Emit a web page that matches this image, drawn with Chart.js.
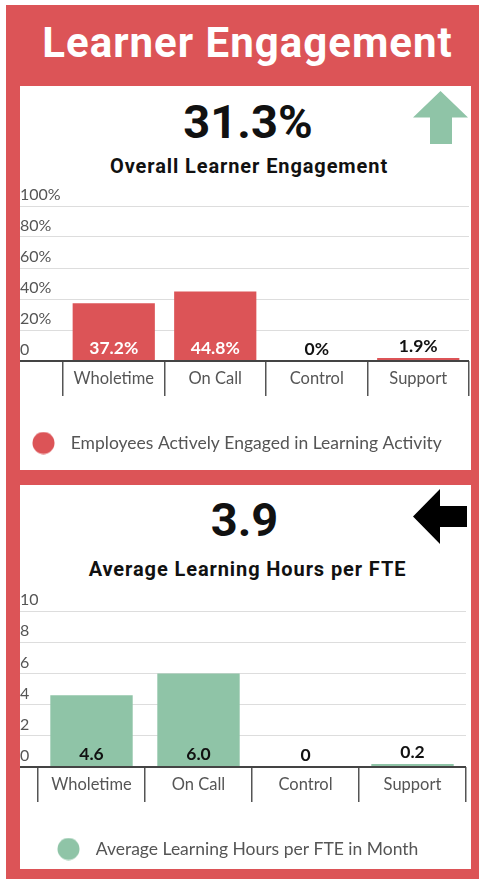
<!DOCTYPE html>
<html>
<head>
<meta charset="utf-8">
<script src="https://cdn.jsdelivr.net/npm/chart.js@4"></script>
<style>
  html, body { margin:0; padding:0; background:#fff; width:479px; height:879px; overflow:hidden; }
  #frame { position:absolute; left:6px; top:5px; width:480px; height:880px; background:#dc5457; }
  .card { position:absolute; background:#fff; left:20px; width:451px; }
  .title { position:absolute; left:0; width:495px; text-align:center; color:#fff;
           font-family:Roboto, sans-serif; font-weight:700; font-size:42px; line-height:42px; top:22px; letter-spacing:1px; }
  .big { position:absolute; text-align:center; color:#111; font-family:Roboto, sans-serif;
         font-weight:700; font-size:47px; line-height:47px; }
  .sub { position:absolute; text-align:center; color:#111; font-family:Roboto, sans-serif;
         font-weight:700; font-size:20px; line-height:20px; letter-spacing:0.9px; }
  canvas { position:absolute; }
  svg { position:absolute; left:0; top:0; }
</style>
</head>
<body>
<div id="frame"></div>
<div class="title">Learner Engagement</div>
<div class="card" style="top:86px;height:384px;"></div>
<div class="card" style="top:485px;height:384px;"></div>

<div class="big" style="left:0;width:496px;top:98px;">31.3%</div>
<div class="sub" style="left:0;width:498px;top:156px;">Overall Learner Engagement</div>
<div class="big" style="left:0;width:489px;top:496px;">3.9</div>
<div class="sub" style="left:0;width:495px;top:559px;">Average Learning Hours per FTE</div>

<svg width="479" height="879">
  <polygon points="413,117.5 440.5,91 468,117.5 452,117.5 452,144 430,144 430,117.5" fill="#8fc4a7"/>
  <polygon points="413,516.5 440,489 440,506 467,506 467,527 440,527 440,544" fill="#000"/>
</svg>

<canvas id="c1" width="451" height="284" style="left:20px;top:186px;"></canvas>
<canvas id="c2" width="451" height="278" style="left:20px;top:591px;"></canvas>

<script>
// ---- data ----
const categories = ['Wholetime', 'On Call', 'Control', 'Support'];
const engagementPct = [37.2, 44.8, 0, 1.9];
const learningHours = [4.6, 6.0, 0, 0.2];
const engagementLabel = 'Employees Actively Engaged in Learning Activity';
const hoursLabel = 'Average Learning Hours per FTE in Month';
const engagementTicks = [0, 20, 40, 60, 80, 100];
const hoursTicks = [0, 2, 4, 6, 8, 10];

const RED = '#dc5457';
const GREEN = '#8fc4a7';

Chart.defaults.font.family = 'Lato, sans-serif';

function dotImage(color) {
  const c = document.createElement('canvas');
  c.width = 30; c.height = 23;
  const g = c.getContext('2d');
  g.fillStyle = color;
  g.beginPath(); g.arc(11.5, 11.5, 11, 0, Math.PI * 2); g.fill();
  return c;
}

const valueLabels = {
  id: 'valueLabels',
  afterDatasetsDraw(chart, args, opts) {
    const ctx = chart.ctx;
    const meta = chart.getDatasetMeta(0);
    const data = chart.data.datasets[0].data;
    ctx.save();
    ctx.font = 'bold 17.5px Lato, sans-serif';
    ctx.textAlign = 'center';
    ctx.textBaseline = 'middle';
    meta.data.forEach((bar, i) => {
      const h = bar.base - bar.y;
      const inside = h > 24;
      ctx.fillStyle = inside ? opts.insideColor : opts.outsideColor;
      ctx.fillText(opts.format(data[i]), bar.x, (inside ? bar.base : bar.y) - 12);
    });
    ctx.restore();
  }
};

function makeChart(id, values, label, color, ticksList, yMax, yWidth, barPct, pad, xHeight, legendPad, fmtTick, fmtVal, insideColor) {
  return new Chart(document.getElementById(id), {
    type: 'bar',
    data: {
      labels: categories,
      datasets: [{
        label: label,
        data: values,
        backgroundColor: color,
        borderWidth: 0,
        categoryPercentage: 1,
        barPercentage: barPct
      }]
    },
    plugins: [valueLabels],
    options: {
      responsive: false,
      animation: false,
      layout: { padding: pad },
      plugins: {
        tooltip: { enabled: false },
        valueLabels: { insideColor: insideColor, outsideColor: '#111', format: fmtVal },
        legend: {
          position: 'bottom',
          align: 'start',
          labels: {
            usePointStyle: true,
            pointStyle: dotImage(color),
            pointStyleWidth: 30,
            color: '#555',
            font: { size: 17.5 },
            padding: legendPad
          }
        }
      },
      scales: {
        x: {
          afterFit: (s) => { s.height = xHeight; },
          border: { display: false },
          grid: { offset: true, drawOnChartArea: false, drawTicks: true, tickLength: 35, color: '#555', lineWidth: 1.5 },
          ticks: { color: '#555', font: { size: 16.5 }, padding: -27, maxRotation: 0 }
        },
        y: {
          min: 0, max: yMax,
          afterFit: (s) => { s.width = yWidth; },
          afterBuildTicks: (s) => { s.ticks = ticksList.map(v => ({ value: v })); },
          border: { display: false },
          grid: {
            drawTicks: true,
            tickLength: yWidth,
            color: (c) => c.tick && c.tick.value === 0 ? '#444' : '#ddd',
            lineWidth: (c) => c.tick && c.tick.value === 0 ? 2 : 1
          },
          ticks: {
            crossAlign: 'far',
            labelOffset: -11,
            padding: 0,
            color: '#555',
            font: { size: 16 },
            callback: fmtTick
          }
        }
      }
    }
  });
}

makeChart('c1', engagementPct, engagementLabel, RED, engagementTicks, 100, 43, 0.81,
  { top: 20, right: 2, left: 0, bottom: 8.25 }, 61.25, 12,
  (v) => v === 0 ? '0' : v + '%',
  (v) => v === 0 ? '0%' : v.toFixed(1) + '%',
  '#fff');

makeChart('c2', learningHours, hoursLabel, GREEN, hoursTicks, 10, 18, 0.77,
  { top: 20, right: 5, left: 0, bottom: 1.25 }, 36.25, 37,
  (v) => String(v),
  (v) => v === 0 ? '0' : v.toFixed(1),
  '#111');
</script>
</body>
</html>
